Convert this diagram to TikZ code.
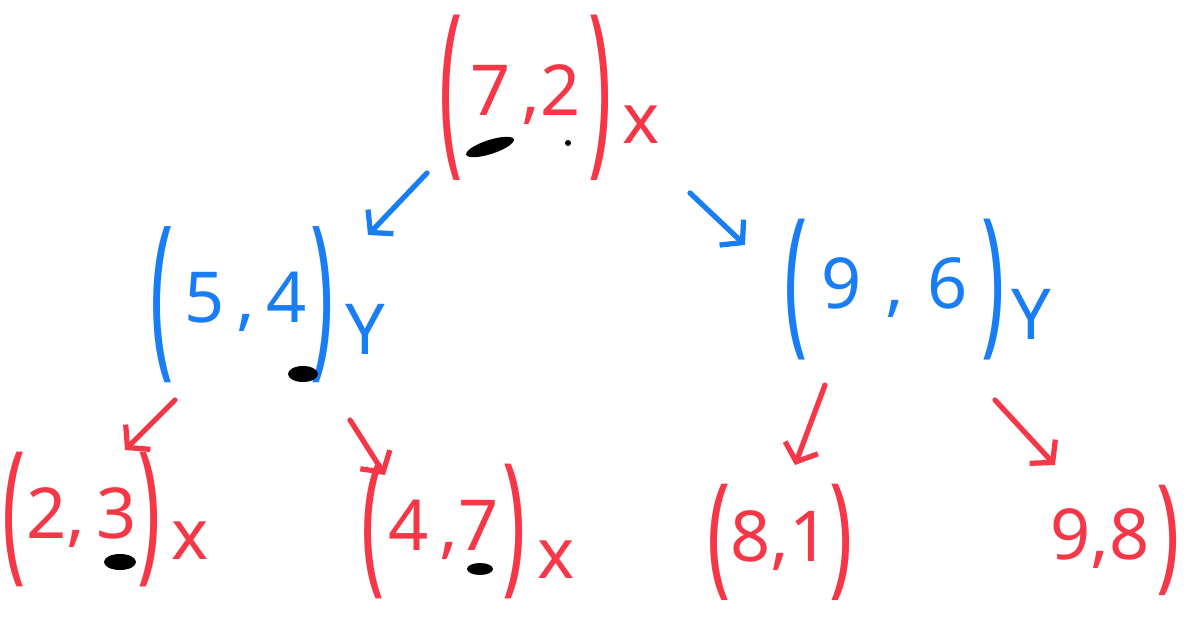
\documentclass[tikz,border=0pt]{standalone}
\usepackage{fontspec}
\setmainfont{Noto Sans}
\usepackage{graphicx}
\usetikzlibrary{arrows.meta,positioning}
\definecolor{inkred}{RGB}{245,55,72}
\definecolor{inkblue}{RGB}{25,125,245}
% tall hand-drawn style bracket: #1 = vertical stretch, #2 = bracket
\newcommand{\inkpar}[2]{\pgfmathsetmacro\parraise{0.34-0.314*#1}\raisebox{\parraise em}{\scalebox{1.1}[#1]{#2}}}

\begin{document}
\begin{tikzpicture}[
x=0.02cm, y=-0.02cm,
pt/.style={inner sep=0pt, font=\fontsize{40}{48}\selectfont},
redpt/.style={pt, text=inkred},
bluept/.style={pt, text=inkblue},
arrow/.style={-{Straight Barb[length=3mm,width=7mm,line width=3pt]}, line width=3pt, line cap=round}
]
\useasboundingbox (0,0) rectangle (1187,625);
\node[redpt] (n72) at (550,98) {\inkpar{2.7}{(}\kern.1em7\,,2\kern.1em\inkpar{2.7}{)}\,\raisebox{-0.4em}{x}};
\node[bluept] (n54) at (268,305) {\inkpar{2.55}{(}\kern.15em5\,,\,4\kern.05em\inkpar{2.55}{)}\,\raisebox{-0.45em}{Y}};
\node[bluept] (n96) at (918,290) {\inkpar{2.3}{(}\kern.2em9\,\,,\,\,6\kern.2em\inkpar{2.3}{)}\kern.1em\raisebox{-0.45em}{Y}};
\node[redpt] (n23) at (106,520) {\inkpar{2.2}{(}2,\,3\inkpar{2.2}{)}\,\raisebox{-0.3em}{x}};
\node[redpt] (n47) at (468,532) {\inkpar{2.2}{(}\kern.05em4\,,7\kern.05em\inkpar{2.2}{)}\,\raisebox{-0.4em}{x}};
\node[redpt] (n81) at (780,542) {\inkpar{1.9}{(}8,1\inkpar{1.9}{)}};
\node[redpt] (n98) at (1115,540) {9,8\kern.1em\inkpar{1.8}{)}};
\draw[arrow, inkblue] ([shift={(-123,75)}]n72.center) -- ([shift={(100,-70)}]n54.center);
\draw[arrow, inkblue] ([shift={(140,95)}]n72.center) -- ([shift={(-173,-45)}]n96.center);
\draw[arrow, inkred] ([shift={(-93,95)}]n54.center) -- ([shift={(19,-70)}]n23.center);
\draw[arrow, inkred] ([shift={(82,115)}]n54.center) -- ([shift={(-83,-57)}]n47.center);
\draw[arrow, inkred] ([shift={(-93,95)}]n96.center) -- ([shift={(15,-77)}]n81.center);
\draw[arrow, inkred] ([shift={(77,110)}]n96.center) -- ([shift={(-60,-75)}]n98.center);
% smudges
\fill[rotate around={18:(490,147)}] (490,147) ellipse [x radius=25, y radius=7];
\fill (568,143) circle [radius=3];
\fill (303,374) ellipse [x radius=15, y radius=8];
\fill (120,562) ellipse [x radius=16, y radius=8];
\fill (480,569) ellipse [x radius=13, y radius=6];
\end{tikzpicture}
\end{document}
